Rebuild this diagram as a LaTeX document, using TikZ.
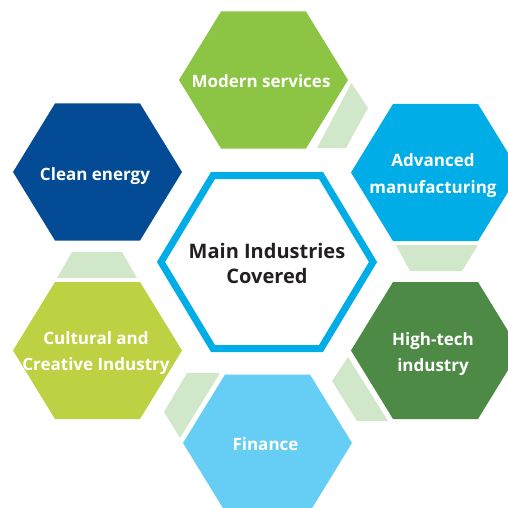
\documentclass[tikz,border=0pt]{standalone}
\usepackage{fontspec}
\setmainfont{Open Sans}
\usetikzlibrary{calc}
\definecolor{modernGreen}{HTML}{8CC443}
\definecolor{advBlue}{HTML}{00ADE6}
\definecolor{techGreen}{HTML}{4C8A46}
\definecolor{finBlue}{HTML}{66CDF4}
\definecolor{cultGreen}{HTML}{BDD142}
\definecolor{cleanBlue}{HTML}{034B95}
\definecolor{gapGreen}{HTML}{D1E7C9}
\definecolor{ringBlue}{HTML}{00ADE6}
\definecolor{darkText}{HTML}{231F20}
\tikzset{
    hexlabel/.style = {align=center, inner sep=0pt, anchor=base, text=white,
                       font=\bfseries\fontsize{17}{26.7}\selectfont},
    mainlabel/.style = {hexlabel, text=darkText, font=\bfseries\fontsize{20}{25}\selectfont},
    gap/.style = {fill=gapGreen, draw=none},
    ring/.style = {draw=ringBlue, line width=7pt, line join=miter}
}
% hexagon with flat top: #1 centre, #2 half width, #3 half top edge, #4 half height
\newcommand{\hexa}[4]{($(#1)+(-#2,0)$) -- ($(#1)+(-#3,-#4)$) -- ($(#1)+(#3,-#4)$)
    -- ($(#1)+(#2,0)$) -- ($(#1)+(#3,#4)$) -- ($(#1)+(-#3,#4)$) -- cycle}

\begin{document}
\begin{tikzpicture}[x=1pt, y=-1pt]
    \useasboundingbox (0,0) rectangle (508,508);

    % centres of the hexagons
    \coordinate (c-modern)   at (263.5,80);
    \coordinate (c-adv)      at (435.5,172.5);
    \coordinate (c-tech)     at (435.5,350.5);
    \coordinate (c-fin)      at (267.5,443);
    \coordinate (c-cult)     at (97.5,350.5);
    \coordinate (c-clean)    at (97.5,172);
    \coordinate (c-main)     at (267,262);

    % pale pieces between the hexagons
    \fill[gap] (351.5,83) -- (368,108) -- (346,148) -- (317,148) -- cycle;
    \fill[gap] (396,245) -- (478,245) -- (462,271) -- (410,271) -- cycle;
    \fill[gap] (348,357) -- (332,381) -- (357,421) -- (388,421) -- cycle;
    \fill[gap] (187,373) -- (220,373) -- (180,438) -- (164,412) -- cycle;
    \fill[gap] (72,252) -- (122,252) -- (137,278) -- (57,278) -- cycle;

    % outer hexagons
    \fill[modernGreen] \hexa{c-modern}{84.5}{42.5}{68.5};
    \fill[advBlue]     \hexa{c-adv}{84.5}{42.5}{68.5};
    \fill[techGreen]   \hexa{c-tech}{84.5}{42.5}{68.5};
    \fill[finBlue]     \hexa{c-fin}{84.5}{42.5}{68.5};
    \fill[cultGreen]   \hexa{c-cult}{84.5}{42.5}{68.5};
    \fill[cleanBlue]   \hexa{c-clean}{84.5}{42.5}{68.5};

    % middle ring
    \draw[ring] \hexa{c-main}{106}{54}{86.5};

    % labels (base = last line)
    \node[hexlabel]  (modern) at (261,88)    {Modern services};
    \node[hexlabel]  (adv)    at (433,193.4) {Advanced\\manufacturing};
    \node[hexlabel]  (tech)   at (433,371.7) {High-tech\\industry};
    \node[hexlabel]  (fin)    at (265.5,450.7) {Finance};
    \node[hexlabel]  (cult)   at (96,370.7)  {Cultural and\\Creative Industry};
    \node[hexlabel]  (clean)  at (95,180)    {Clean energy};
    \node[mainlabel] (main)   at (267,283.3) {Main Industries\\Covered};
\end{tikzpicture}
\end{document}
